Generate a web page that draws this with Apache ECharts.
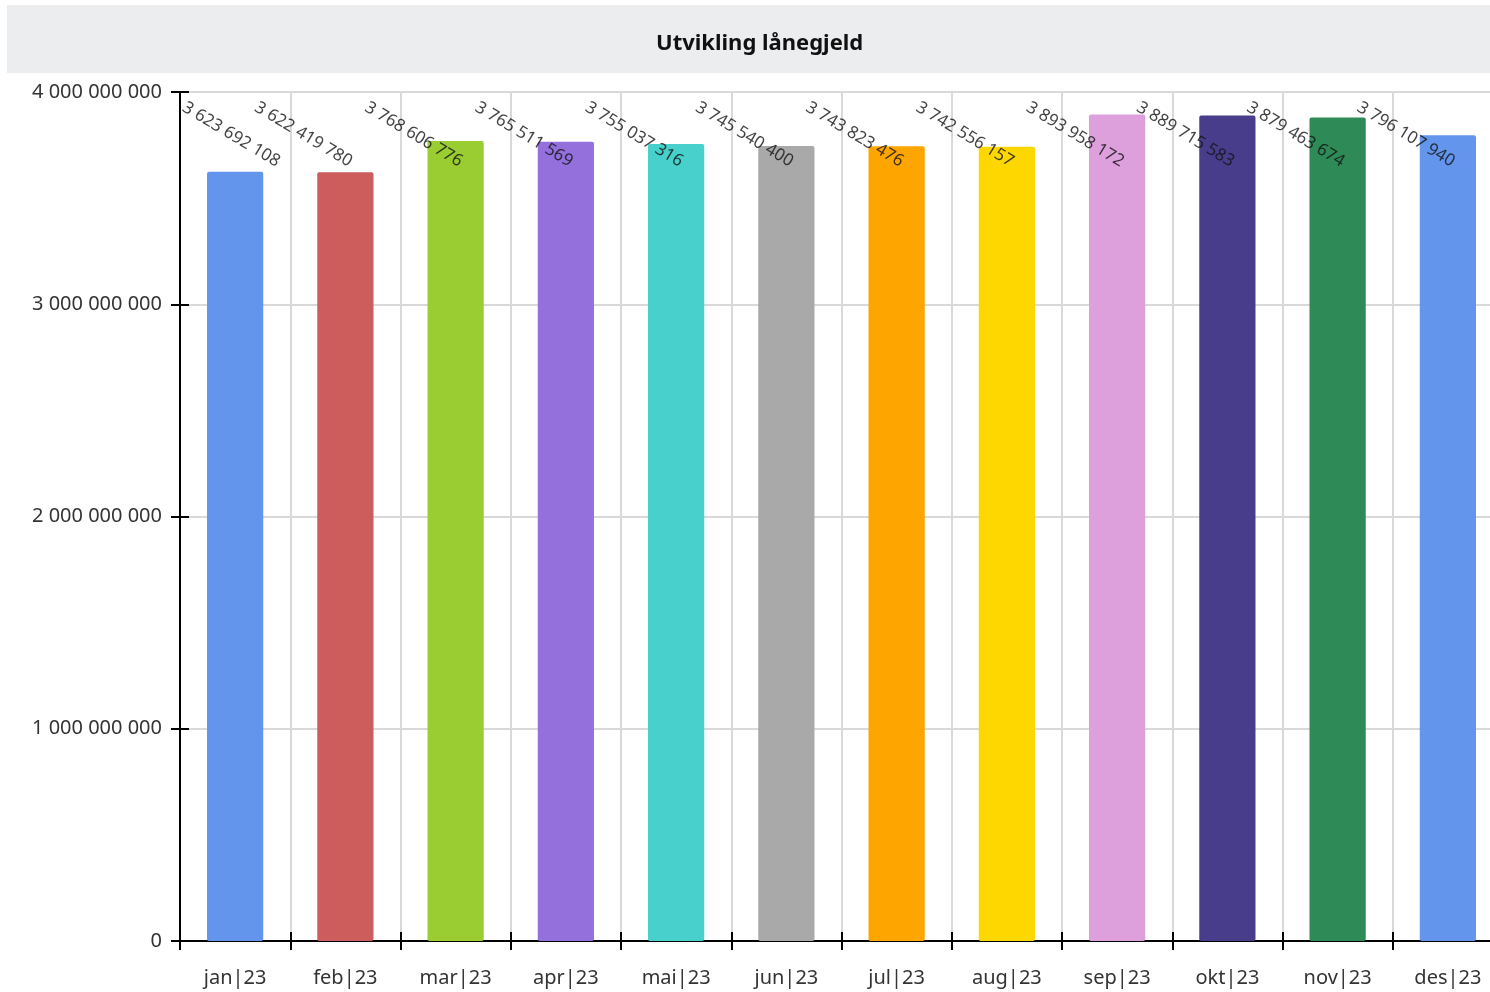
<!DOCTYPE html>
<html>
<head>
<meta charset="utf-8">
<script src="https://cdn.jsdelivr.net/npm/echarts@6/dist/echarts.min.js"></script>
<style>
html,body{margin:0;padding:0;background:#fff;overflow:hidden;width:1490px;height:992px;}
#chart{width:1503px;height:992px;}
</style>
</head>
<body>
<div id="chart"></div>
<script>
const categories = ['jan|23','feb|23','mar|23','apr|23','mai|23','jun|23','jul|23','aug|23','sep|23','okt|23','nov|23','des|23'];
const values = [3623692108, 3622419780, 3768606776, 3765511569, 3755037316, 3745540400, 3743823476, 3742556157, 3893958172, 3889715583, 3879463674, 3796107940];
const barColors = ['#6495ED','#CD5C5C','#9ACD32','#9370DB','#48D1CC','#A9A9A9','#FFA500','#FFD700','#DDA0DD','#483D8B','#2E8B57','#6495ED'];
const yTicks = [0, 1000000000, 2000000000, 3000000000, 4000000000];
const labelLevel = 3800000000;

const fmt = v => String(Math.round(v)).replace(/\B(?=(\d{3})+(?!\d))/g, ' ');
const FONT = '"Noto Sans", "Open Sans", sans-serif';
const yMin = yTicks[0], yMax = yTicks[yTicks.length-1], yStep = yTicks[1] - yTicks[0];

const ROT = 31;
const rad = ROT * Math.PI / 180;
// convert a horizontal screen shift into the rotated label's local offset
const shift = dx => [dx * Math.cos(rad), -dx * Math.sin(rad)];

const chart = echarts.init(document.getElementById('chart'), null, {renderer:'canvas'});
chart.setOption({
  animation: false,
  backgroundColor: '#ffffff',
  graphic: [{
    type: 'rect', left: 7, top: 5, z: -1,
    shape: {width: 1483, height: 68},
    style: {fill: '#ECEDEF'}
  }],
  title: {
    text: 'Utvikling lånegjeld',
    left: 651, top: 28,
    textStyle: {fontFamily: FONT, fontWeight: 'bold', fontSize: 22, color: '#111'}
  },
  grid: {left: 180, right: 0, top: 92, bottom: 51, containLabel: false},
  xAxis: [{
    type: 'category',
    data: categories,
    axisLine: {lineStyle: {color: '#000', width: 2}},
    axisTick: {show: true, length: 9, lineStyle: {color: '#000', width: 2}},
    axisLabel: {fontFamily: FONT, fontSize: 20, color: '#333', margin: 27},
    splitLine: {show: true, lineStyle: {color: '#D9D9D9', width: 2}}
  }, {
    type: 'category',
    position: 'bottom',
    data: categories,
    axisLine: {show: false},
    axisTick: {show: true, inside: true, length: 9, lineStyle: {color: '#000', width: 2}},
    axisLabel: {show: false},
    splitLine: {show: false}
  }],
  yAxis: [{
    type: 'value',
    min: yMin, max: yMax, interval: yStep,
    axisLine: {show: true, lineStyle: {color: '#000', width: 2}},
    axisTick: {show: true, length: 9, lineStyle: {color: '#000', width: 2}},
    axisLabel: {fontFamily: FONT, fontSize: 20, color: '#333', margin: 18, formatter: v => fmt(v)},
    splitLine: {show: true, lineStyle: {color: '#D9D9D9', width: 2}}
  }, {
    type: 'value',
    position: 'left',
    min: yMin, max: yMax, interval: yStep,
    axisLine: {show: false},
    axisTick: {show: true, inside: true, length: 9, lineStyle: {color: '#000', width: 2}},
    axisLabel: {show: false},
    splitLine: {show: false}
  }],
  series: [{
    type: 'bar',
    barWidth: '51%',
    data: values.map((v, i) => ({value: v, itemStyle: {color: barColors[i], borderRadius: 2}})),
    z: 2
  }, {
    type: 'scatter',
    symbolSize: 0,
    z: 5,
    data: values.map((v, i) => ({
      value: [categories[i], labelLevel, v],
      label: {offset: shift(i === 0 ? -4 : -42)}
    })),
    label: {
      show: true,
      position: 'inside',
      rotate: -ROT,
      fontFamily: FONT,
      fontSize: 17,
      color: '#111',
      formatter: p => fmt(p.data.value[2])
    }
  }]
});
</script>
</body>
</html>
